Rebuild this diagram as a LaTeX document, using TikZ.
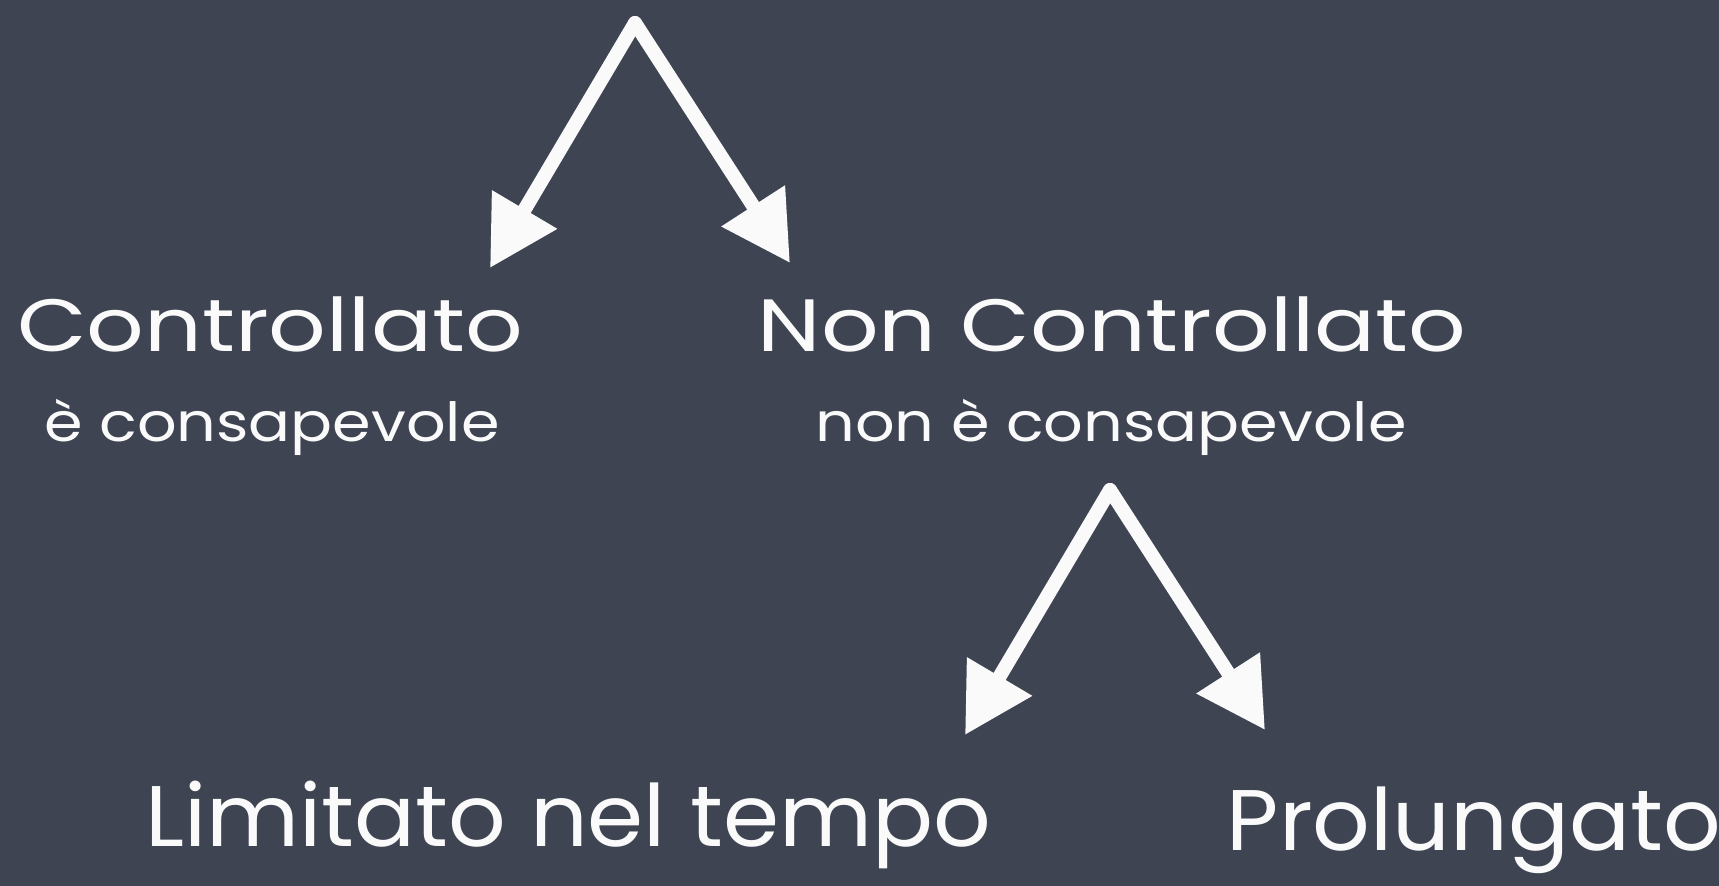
\documentclass[tikz,border=0pt]{standalone}
\usepackage{fontspec}
\setmainfont{Poppins}
\newfontfamily\chalktitle[FakeStretch=1.22]{Poppins}
\newfontfamily\chalksub[FakeStretch=1.15]{Poppins}
\newfontfamily\chalkbig[FakeStretch=1.05]{Poppins}
\usetikzlibrary{arrows.meta}
\definecolor{board}{RGB}{62,68,82}
\definecolor{chalk}{RGB}{250,250,250}
\tikzset{
  title/.style={text=chalk, font=\chalktitle\fontsize{37}{37}\selectfont, anchor=base, inner sep=0pt},
  sub/.style={text=chalk, font=\chalksub\fontsize{27}{27}\selectfont, anchor=base, inner sep=0pt},
  big/.style={text=chalk, font=\chalkbig\fontsize{43}{43}\selectfont, anchor=base, inner sep=0pt},
  chalkarrow/.style={draw=chalk, line width=7pt, line cap=round, -{Triangle[length=34pt,width=36pt]}}
}
\begin{document}
\begin{tikzpicture}[x=0.5pt,y=-0.5pt]
  \fill[board] (0,0) rectangle (1719,886);
  \useasboundingbox (0,0) rectangle (1719,886);
  % labels
  \node[title] (ctrl) at (270,352) {Controllato};
  \node[sub] (ctrlsub) at (272,442) {è consapevole};
  \node[title] (nonctrl) at (1112,352) {Non Controllato};
  \node[sub] (nonctrlsub) at (1111,442) {non è consapevole};
  \node[big] (limit) at (568,847) {Limitato nel tempo};
  \node[big] (prolung) at (1474,850) {Prolungato};
  % arrows
  \coordinate (apex1) at (635,23);
  \coordinate (tipL1) at (490,268);
  \coordinate (tipR1) at (790,263);
  \coordinate (apex2) at (1110,490);
  \coordinate (tipL2) at (965,735);
  \coordinate (tipR2) at (1265,730);
  \draw[chalkarrow] (apex1) -- (tipL1);
  \draw[chalkarrow] (apex1) -- (tipR1);
  \draw[chalkarrow] (apex2) -- (tipL2);
  \draw[chalkarrow] (apex2) -- (tipR2);
\end{tikzpicture}
\end{document}
